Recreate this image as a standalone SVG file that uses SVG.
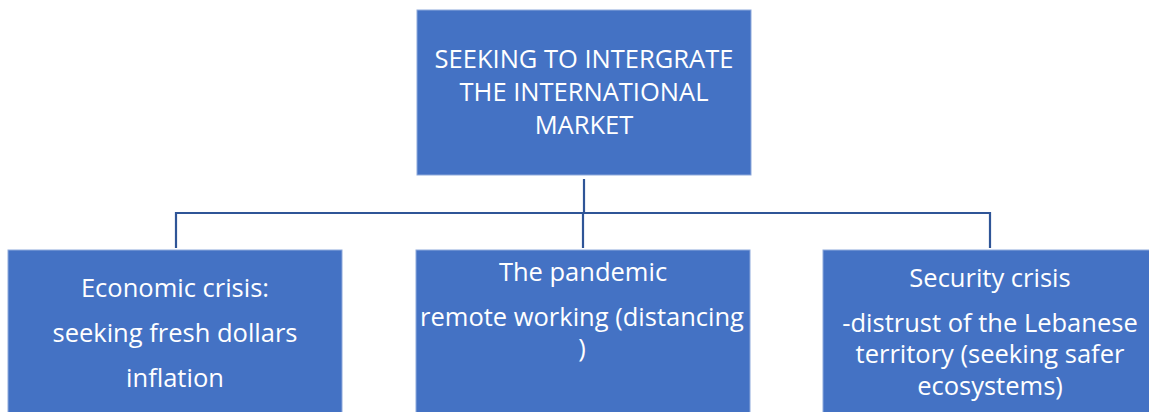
<svg xmlns="http://www.w3.org/2000/svg" width="1149" height="412" viewBox="0 0 1149 412">
<style>
.box{fill:#4472C4;stroke:#8EA9DB;stroke-width:1}
.t{font-family:"Open Sans","Liberation Sans",sans-serif;font-size:25.5px;fill:#FFFFFF;text-anchor:middle}
.c{fill:none;stroke:#2F5597;stroke-width:2.2}
</style>
<rect width="1149" height="412" fill="#FFFFFF"/>
<g id="connectors">
<path class="c" d="M584 179 V213"/>
<path class="c" d="M176 248 V213 H990 V248"/>
<path class="c" d="M583 213 V248"/>
</g>
<g id="top">
<rect class="box" x="417" y="10" width="334" height="165"/>
<text class="t" x="584" y="68">SEEKING TO INTERGRATE</text>
<text class="t" x="584" y="101">THE INTERNATIONAL</text>
<text class="t" x="584" y="134">MARKET</text>
</g>
<g id="economic">
<rect class="box" x="8" y="250" width="334" height="170"/>
<text class="t" x="175" y="297">Economic crisis:</text>
<text class="t" x="175" y="342">seeking fresh dollars</text>
<text class="t" x="175" y="387">inflation</text>
</g>
<g id="pandemic">
<rect class="box" x="416" y="250" width="334" height="170"/>
<text class="t" x="583" y="281">The pandemic</text>
<text class="t" x="582" y="326">remote working (distancing</text>
<text class="t" x="582" y="357">)</text>
</g>
<g id="security">
<rect class="box" x="823" y="250" width="334" height="170"/>
<text class="t" x="990" y="287">Security crisis</text>
<text class="t" x="990" y="332">-distrust of the Lebanese</text>
<text class="t" x="990" y="363">territory (seeking safer</text>
<text class="t" x="990" y="395">ecosystems)</text>
</g>
</svg>
